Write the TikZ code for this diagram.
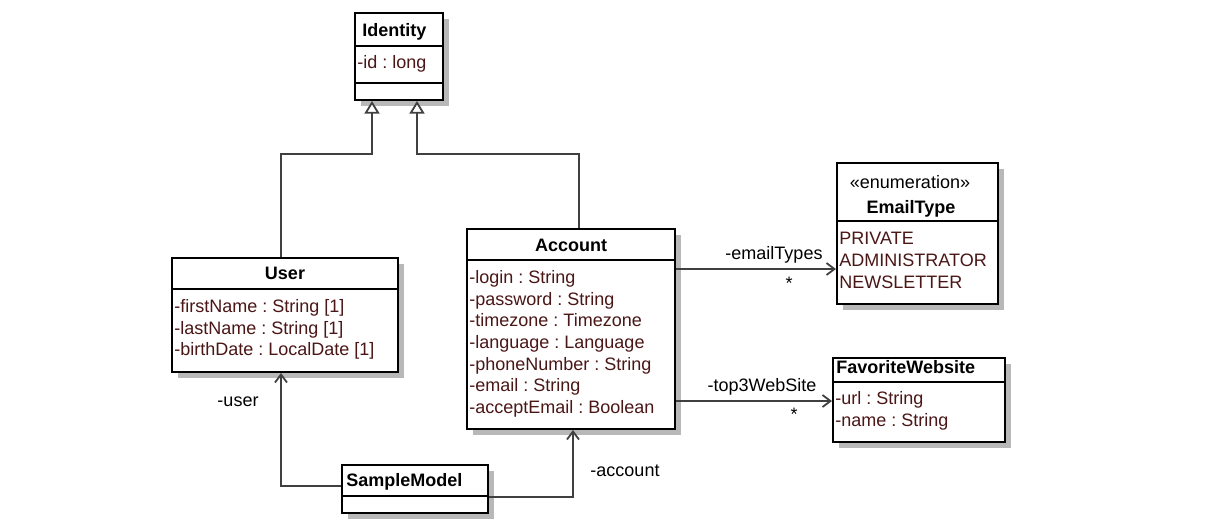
\documentclass[tikz,border=0pt]{standalone}
\usepackage{fontspec}
\setmainfont{Liberation Sans}
\usetikzlibrary{arrows.meta,positioning,fit,shadows}
\definecolor{attrbrown}{RGB}{75,22,22}
\definecolor{linkgray}{RGB}{64,64,64}
\newcommand{\umlfont}{\fontsize{9}{11}\selectfont}
\frenchspacing

\tikzset{
  umlbox/.style={draw=black, line width=1pt, fill=white, inner sep=0pt,
    drop shadow={shadow xshift=3pt, shadow yshift=-3pt, fill=black!28, opacity=1}},
  divider/.style={draw=black, line width=1pt},
  attr/.style={anchor=base west, inner sep=0pt, text=attrbrown, font=\umlfont},
  title/.style={anchor=base, inner sep=0pt, font=\umlfont\bfseries},
  lbl/.style={anchor=base, inner sep=0pt, font=\umlfont},
  inherit/.style={draw=linkgray, line width=0.9pt, -{Triangle[open, length=6.3pt, width=7.5pt, fill=white]}},
  assoc/.style={draw=linkgray, line width=0.9pt, -{Straight Barb[length=4pt, width=6pt]}}
}

\begin{document}
\begin{tikzpicture}[x=0.5pt, y=-0.5pt]
    \useasboundingbox (0,0) rectangle (1216,527);
    % class boxes
    \node[umlbox, fit={(355,13) (443,100)}] (identity) {};
    \node[umlbox, fit={(172,258) (398,372)}] (user) {};
    \node[umlbox, fit={(467,229) (675,429)}] (account) {};
    \node[umlbox, fit={(837,163) (998,304)}] (emailtype) {};
    \node[umlbox, fit={(833,358) (1005,442)}] (website) {};
    \node[umlbox, fit={(342,465) (488,513)}] (sample) {};
    % compartments
    \draw[divider] ([yshift=-17pt]identity.north west) -- ([yshift=-17pt]identity.north east);
    \draw[divider] ([yshift=-35.5pt]identity.north west) -- ([yshift=-35.5pt]identity.north east);
    \draw[divider] ([yshift=-16pt]user.north west) -- ([yshift=-16pt]user.north east);
    \draw[divider] ([yshift=-16pt]account.north west) -- ([yshift=-16pt]account.north east);
    \draw[divider] ([yshift=-29.5pt]emailtype.north west) -- ([yshift=-29.5pt]emailtype.north east);
    \draw[divider] ([yshift=-12.5pt]website.north west) -- ([yshift=-12.5pt]website.north east);
    \draw[divider] ([yshift=-16pt]sample.north west) -- ([yshift=-16pt]sample.north east);
    % Identity
    \node[title, anchor=base west] (identitytitle) at (362,36) {Identity};
    \node[attr] (identityid) at (357,68) {-id : long};
    % User
    \node[title] (usertitle) at (285,279) {User};
    \node[attr] (userfirst) at (174,312) {-firstName : String [1]};
    \node[attr] (userlast) at (174,334) {-lastName : String [1]};
    \node[attr] (userbirth) at (174,355) {-birthDate : LocalDate [1]};
    % Account
    \node[title] (accounttitle) at (571,251) {Account};
    \node[attr] (acclogin) at (469,283) {-login : String};
    \node[attr] (accpassword) at (469,305) {-password : String};
    \node[attr] (acctimezone) at (469,326) {-timezone : Timezone};
    \node[attr] (acclanguage) at (469,348) {-language : Language};
    \node[attr] (accphone) at (469,370) {-phoneNumber : String};
    \node[attr] (accemail) at (469,391) {-email : String};
    \node[attr] (accaccept) at (469,413) {-acceptEmail : Boolean};
    % EmailType
    \node[lbl] (emailstereo) at (910,188) {«enumeration»};
    \node[title] (emailtitle) at (911,213) {EmailType};
    \node[attr] (emailprivate) at (839,244) {PRIVATE};
    \node[attr] (emailadmin) at (839,266) {ADMINISTRATOR};
    \node[attr] (emailnews) at (839,288) {NEWSLETTER};
    % FavoriteWebsite
    \node[title, anchor=base west] (websitetitle) at (836,373) {FavoriteWebsite};
    \node[attr] (websiteurl) at (835,404) {-url : String};
    \node[attr] (websitename) at (835,426) {-name : String};
    % SampleModel
    \node[title, anchor=base west] (sampletitle) at (346,486) {SampleModel};
    % generalisations
    \draw[inherit] ([xshift=55pt]user.north west) -- ++(0,-103) -| ([xshift=9pt]identity.south west);
    \draw[inherit] ([xshift=56.5pt]account.north west) -- ++(0,-74) -| ([xshift=31.5pt]identity.south west);
    % associations
    \draw[assoc] ([yshift=-20.5pt]account.north east) coordinate (mailstart) -- (mailstart -| emailtype.west);
    \draw[assoc] ([yshift=-86.5pt]account.north east) coordinate (webstart) -- (webstart -| website.west);
    \draw[assoc] ([yshift=-11pt]sample.north west) -| ([xshift=55pt]user.south west);
    \draw[assoc] ([yshift=-16.5pt]sample.north east) -| ([xshift=53.5pt]account.south west);
    \node[lbl] (lblemail) at (774,259) {-emailTypes};
    \node[lbl, anchor=center] (staremail) at (789,283) {*};
    \node[lbl] (lblweb) at (762,391) {-top3WebSite};
    \node[lbl, anchor=center] (starweb) at (794,414) {*};
    \node[lbl] (lbluser) at (238,406) {-user};
    \node[lbl] (lblaccount) at (625,476) {-account};
\end{tikzpicture}
\end{document}
